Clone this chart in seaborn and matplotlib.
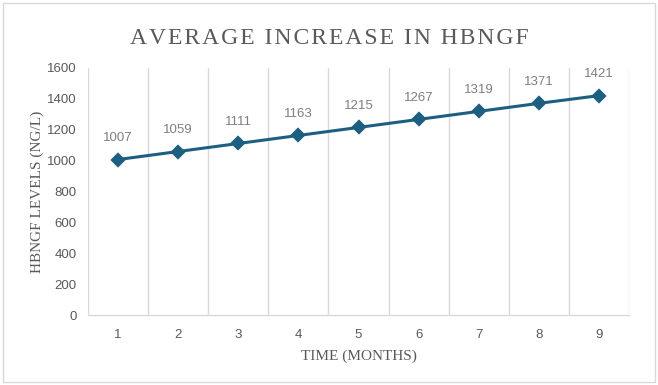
import matplotlib
matplotlib.use("Agg")
import matplotlib.pyplot as plt
import seaborn as sns
import pandas as pd
from matplotlib.patches import Rectangle

months = ["1", "2", "3", "4", "5", "6", "7", "8", "9"]
levels = [1007, 1059, 1111, 1163, 1215, 1267, 1319, 1371, 1421]
y_ticks = [0, 200, 400, 600, 800, 1000, 1200, 1400, 1600]

df = pd.DataFrame({"month": months, "level": levels})

sns.set_theme(style="white")
plt.rcParams['font.family'] = ['Liberation Sans', 'DejaVu Sans']

fig = plt.figure(figsize=(6.58, 3.85), dpi=100)
ax = fig.add_axes([0.1337, 0.1818, 0.8223, 0.6416])

line_color = "#1d5f80"
sns.pointplot(data=df, x="month", y="level", ax=ax, color=line_color,
              markers="D", markersize=6, linewidth=2.2)

ax.set_xlim(-0.5, len(months) - 0.5)
ax.set_ylim(0, 1600)
ax.set_yticks(y_ticks)
ax.set_yticklabels([str(v) for v in y_ticks])

grid_c = "#d9d9d9"
for i in range(len(months) + 1):
    ax.axvline(i - 0.5, color=grid_c, lw=1, zorder=0)
for s in ["top", "right", "left"]:
    ax.spines[s].set_visible(False)
ax.spines["bottom"].set_color(grid_c)
ax.spines["bottom"].set_linewidth(1)

ax.tick_params(axis="both", length=0, labelsize=9.5, labelcolor="#595959")
ax.tick_params(axis="x", pad=10)
ax.tick_params(axis="y", pad=8)

for i, v in enumerate(levels):
    ax.annotate(str(v), (i, v), xytext=(0, 11), textcoords="offset points",
                ha="center", va="bottom", fontsize=9.5, color="#7f7f7f")

serif = ['Liberation Serif', 'DejaVu Serif']
ax.set_xlabel("TIME (MONTHS)", family=serif, fontsize=11, color="#595959", labelpad=6)
ax.set_ylabel("HBNGF LEVELS (NG/L)", family=serif, fontsize=11, color="#595959", labelpad=2)

title = "AVERAGE INCREASE IN HBNGF"
spaced = "\u200a".join(title)
fig.text(0.5, 0.9, spaced, family=serif, fontsize=17, color="#595959",
         ha="center", va="center")

fig.patches.append(Rectangle((0.005, 0.008), 0.99, 0.984, transform=fig.transFigure,
                             fill=False, edgecolor="#d9d9d9", lw=1))

fig.savefig("out.png", dpi=100)
